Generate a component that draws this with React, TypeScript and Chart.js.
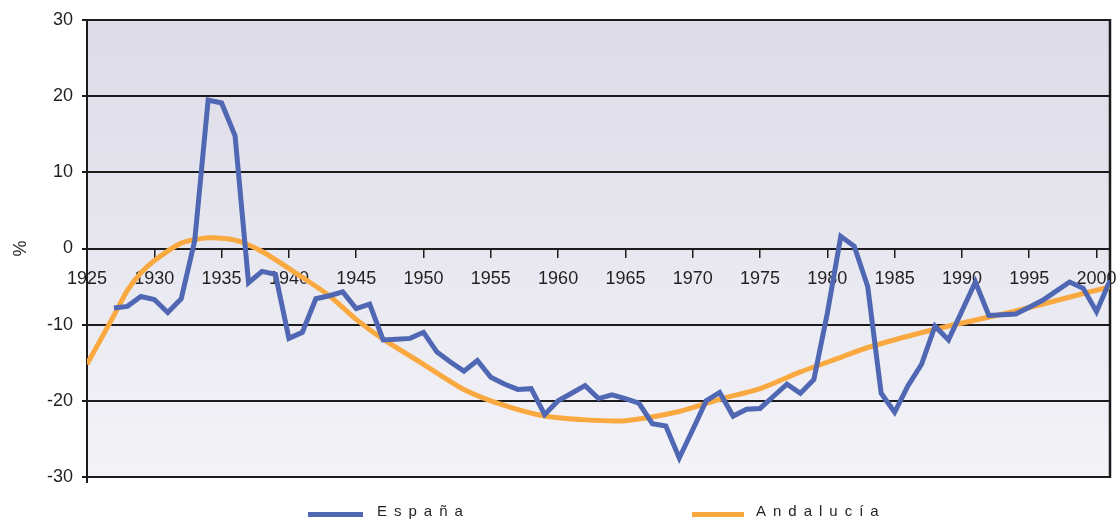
import React, { useEffect, useRef } from "react";
import { Chart, registerables } from "chart.js";

Chart.register(...registerables);

// ---- Data ----
const espanaYears = [
  1927, 1928, 1929, 1930, 1931, 1932, 1933, 1934, 1935, 1936, 1937, 1938, 1939,
  1940, 1941, 1942, 1943, 1944, 1945, 1946, 1947, 1948, 1949, 1950, 1951, 1952,
  1953, 1954, 1955, 1956, 1957, 1958, 1959, 1960, 1961, 1962, 1963, 1964, 1965,
  1966, 1967, 1968, 1969, 1970, 1971, 1972, 1973, 1974, 1975, 1976, 1977, 1978,
  1979, 1980, 1981, 1982, 1983, 1984, 1985, 1986, 1987, 1988, 1989, 1990, 1991,
  1992, 1993, 1994, 1995, 1996, 1997, 1998, 1999, 2000, 2001,
];
const espanaValues = [
  -7.8, -7.6, -6.3, -6.7, -8.4, -6.6, 1.0, 19.5, 19.1, 14.8, -4.5, -3.0, -3.4,
  -11.8, -11.0, -6.6, -6.2, -5.7, -7.9, -7.3, -12.0, -11.9, -11.8, -11.0, -13.6, -14.9,
  -16.1, -14.7, -16.9, -17.8, -18.5, -18.4, -21.8, -20.0, -19.0, -18.0, -19.7, -19.2, -19.7,
  -20.3, -23.0, -23.3, -27.5, -23.8, -20.0, -18.9, -22.0, -21.1, -21.0, -19.4, -17.8, -19.0,
  -17.2, -8.5, 1.6, 0.3, -5.0, -19.0, -21.5, -18.0, -15.2, -10.2, -12.0, -8.2, -4.4,
  -8.8, -8.7, -8.6, -7.7, -6.8, -5.6, -4.4, -5.2, -8.3, -4.2,
];

const andaluciaYears = [
  1925, 1927, 1928, 1929, 1930, 1932, 1934, 1936, 1938, 1941, 1943, 1945, 1947,
  1950, 1953, 1956, 1959, 1962, 1965, 1969, 1972, 1975, 1978, 1981, 1983, 1988,
  1994, 2001,
];
const andaluciaValues = [
  -15.2, -8.8, -5.5, -3.2, -1.6, 0.7, 1.4, 1.1, -0.4, -3.8, -6.2, -9.3, -11.9,
  -15.2, -18.5, -20.6, -22.0, -22.5, -22.6, -21.4, -19.8, -18.4, -16.2, -14.3, -13.0, -10.6,
  -8.2, -5.0,
];

const xMin = 1925;
const xMax = 2001;
const xTickStep = 5;
const yMin = -30;
const yMax = 30;
const yTickStep = 10;

const seriesNames = ["España", "Andalucía"];
const seriesColors = ["#5068b3", "#f9a940"];

const FONT = "'Liberation Sans', Arial, Helvetica, sans-serif";
const INK = "#231f20";
const LINE = "#1c1c1c";

const framePlugin = {
  id: "frameBg",
  beforeDraw(chart: any) {
    const { ctx, chartArea } = chart;
    const { left, top, right, bottom } = chartArea;
    const g = ctx.createLinearGradient(0, top, 0, bottom);
    g.addColorStop(0, "#dcdbe7");
    g.addColorStop(1, "#f3f3f8");
    ctx.save();
    ctx.fillStyle = g;
    ctx.fillRect(left, top, right - left, bottom - top);
    ctx.restore();
  },
  beforeDatasetsDraw(chart: any) {
    const { ctx, chartArea } = chart;
    const { left, top, right, bottom } = chartArea;
    ctx.save();
    ctx.strokeStyle = LINE;
    ctx.lineWidth = 2.5;
    ctx.beginPath();
    ctx.moveTo(right, top - 1);
    ctx.lineTo(right, bottom + 1);
    ctx.stroke();
    ctx.lineWidth = 2;
    ctx.beginPath();
    ctx.moveTo(left, bottom);
    ctx.lineTo(left, bottom + 6);
    ctx.stroke();
    ctx.restore();
  },
};

export default function App() {
  const ref = useRef<HTMLCanvasElement | null>(null);

  useEffect(() => {
    if (!ref.current) return;
    const chart = new Chart(ref.current, {
      type: "line",
      data: {
        datasets: [
          {
            label: seriesNames[0],
            data: espanaYears.map((y, i) => ({ x: y, y: espanaValues[i] })),
            borderColor: seriesColors[0],
            backgroundColor: seriesColors[0],
            borderWidth: 5,
            pointRadius: 0,
            tension: 0,
            borderJoinStyle: "miter",
          },
          {
            label: seriesNames[1],
            data: andaluciaYears.map((y, i) => ({ x: y, y: andaluciaValues[i] })),
            borderColor: seriesColors[1],
            backgroundColor: seriesColors[1],
            borderWidth: 5,
            pointRadius: 0,
            tension: 0.25,
          },
        ],
      },
      options: {
        responsive: false,
        animation: false,
        devicePixelRatio: 1,
        layout: { padding: { left: 0, top: 20, right: 6, bottom: 46 } },
        plugins: {
          legend: { display: false },
          tooltip: { enabled: false },
        },
        scales: {
          x: {
            type: "linear",
            position: { y: 0 } as any,
            min: xMin,
            max: xMax,
            afterFit: (s: any) => {
              s.paddingLeft = 0;
              s.paddingRight = 0;
            },
            ticks: {
              stepSize: xTickStep,
              includeBounds: false,
              autoSkip: false,
              maxRotation: 0,
              padding: 12,
              color: INK,
              font: { family: FONT, size: 18 },
              callback: (v: any) => String(v),
            },
            grid: {
              drawOnChartArea: false,
              drawTicks: true,
              tickLength: 8,
              color: LINE,
              lineWidth: 1.5,
            },
            border: { display: true, color: LINE, width: 2 },
          },
          y: {
            type: "linear",
            min: yMin,
            max: yMax,
            afterFit: (s: any) => {
              s.width = 87;
            },
            ticks: {
              stepSize: yTickStep,
              padding: 9,
              color: INK,
              font: { family: FONT, size: 18 },
            },
            grid: {
              color: LINE,
              lineWidth: 2,
              drawTicks: true,
              tickLength: 5,
            },
            border: { display: true, color: LINE, width: 2 },
            title: {
              display: true,
              text: "%",
              color: INK,
              font: { family: FONT, size: 18 },
              padding: { top: 10, bottom: 0 },
            },
          },
        },
      },
      plugins: [framePlugin],
    });
    return () => chart.destroy();
  }, []);

  const legendText: React.CSSProperties = {
    position: "absolute",
    top: 503,
    fontFamily: FONT,
    fontSize: 15,
    lineHeight: "15px",
    letterSpacing: "7px",
    color: INK,
    whiteSpace: "nowrap",
  };

  return (
    <div
      style={{
        position: "fixed",
        left: 0,
        top: 0,
        width: 1116,
        height: 523,
        background: "#ffffff",
      }}
    >
      <canvas ref={ref} width={1116} height={523} style={{ display: "block" }} />
      <div style={{ position: "absolute", left: 308, top: 512, width: 55, height: 5, background: seriesColors[0] }} />
      <div style={{ ...legendText, left: 377 }}>{seriesNames[0]}</div>
      <div style={{ position: "absolute", left: 692, top: 512, width: 52, height: 5, background: seriesColors[1] }} />
      <div style={{ ...legendText, left: 756 }}>{seriesNames[1]}</div>
    </div>
  );
}
